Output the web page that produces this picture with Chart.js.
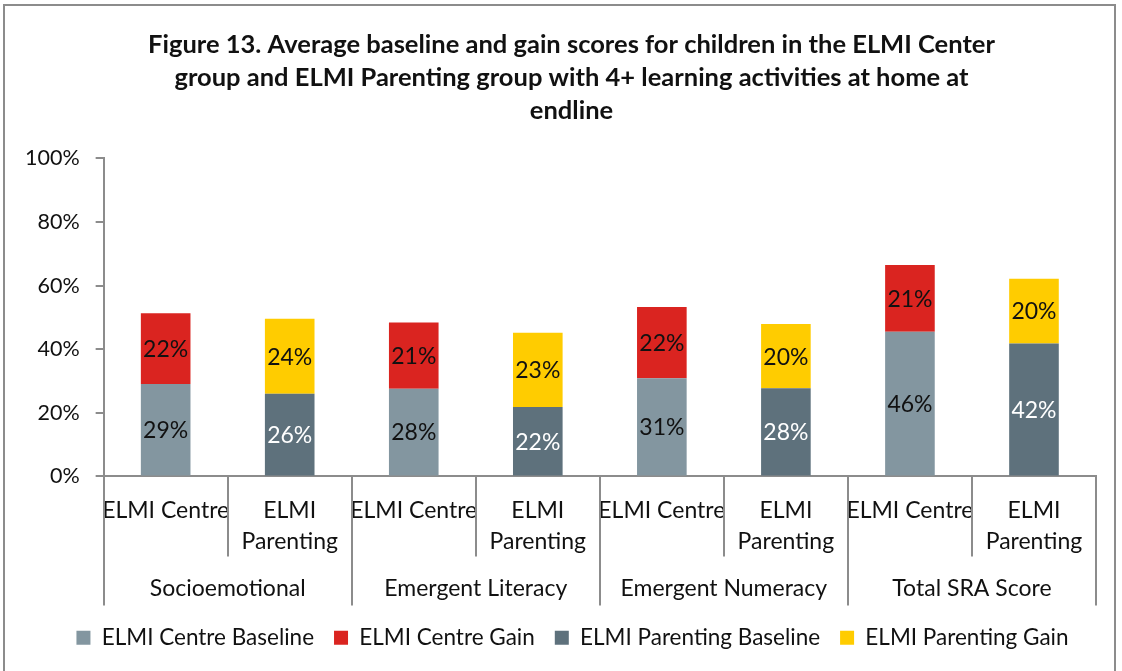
<!DOCTYPE html>
<html>
<head>
<meta charset="utf-8">
<script src="https://cdn.jsdelivr.net/npm/chart.js@4/dist/chart.umd.min.js"></script>
<style>
	html, body { margin: 0; padding: 0; background: #fff; }
	#frame {
		position: absolute; left: 3px; top: 4px; width: 1113px; height: 700px;
		border: 2px solid #8c8c8c; border-bottom: none; box-sizing: border-box;
	}
	#wrap { position: absolute; left: 0; top: 0; width: 1122px; height: 671px; }
</style>
</head>
<body>
<div id="frame"></div>
<div id="wrap"><canvas id="chart" width="1122" height="671"></canvas></div>
<script>
"use strict";

// data
const group_labels			= ["Socioemotional", "Emergent Literacy", "Emergent Numeracy", "Total SRA Score"]
const sub_labels			= [["ELMI Centre"], ["ELMI", "Parenting"]]
const centre_baseline		= [29.1, 27.6, 30.9, 45.5]
const centre_gain			= [22.2, 20.8, 22.4, 21.0]
const parenting_baseline	= [26.0, 21.8, 27.7, 41.8]
const parenting_gain		= [23.6, 23.4, 20.2, 20.4]

const FONT = "Lato, 'Noto Sans', sans-serif"
const AXIS_GREY = "#8c8c8c"

// expand to 8 bars: centre bars at even index, parenting bars at odd index
const labels = []
group_labels.forEach(() => { labels.push(sub_labels[0]); labels.push(sub_labels[1]) })

const spread = (values, offset) => {
	const out = []
	values.forEach((v) => {
		const pair = [null, null]
		pair[offset] = v
		out.push(...pair)
	})
	return out
}

const datasets = [
	{ label: "ELMI Centre Baseline",    data: spread(centre_baseline, 0),    backgroundColor: "#8396a0", text_color: "#111" },
	{ label: "ELMI Centre Gain",        data: spread(centre_gain, 0),        backgroundColor: "#da2420", text_color: "#111" },
	{ label: "ELMI Parenting Baseline", data: spread(parenting_baseline, 1), backgroundColor: "#5e717c", text_color: "#fff" },
	{ label: "ELMI Parenting Gain",     data: spread(parenting_gain, 1),     backgroundColor: "#ffcc00", text_color: "#111" }
]
datasets.forEach((d) => {
	d.stack = "s"
	d.barPercentage = 0.4
	d.categoryPercentage = 1
	d.borderWidth = 0
})

// value labels inside each segment
const value_labels = {
	id: "value_labels",
	afterDatasetsDraw(chart) {
		const ctx = chart.ctx
		ctx.save()
		ctx.font = "23px " + FONT
		ctx.textAlign = "center"
		ctx.textBaseline = "middle"
		chart.data.datasets.forEach((ds, i) => {
			const meta = chart.getDatasetMeta(i)
			meta.data.forEach((bar, j) => {
				const v = ds.data[j]
				if (v === null || v === undefined) return
				ctx.fillStyle = ds.text_color
				ctx.fillText(Math.round(v) + "%", bar.x, (bar.y + bar.base) / 2 + 1)
			})
		})
		ctx.restore()
	}
}

// two level category axis: separators + group labels
const group_axis = {
	id: "group_axis",
	afterDraw(chart) {
		const ctx = chart.ctx
		const x = chart.scales.x
		const top = chart.chartArea.bottom
		const sub_bottom = top + 80
		const grp_bottom = top + 129
		const n = chart.data.labels.length
		const step = (x.right - x.left) / n
		ctx.save()
		ctx.strokeStyle = AXIS_GREY
		ctx.lineWidth = 2
		for (let i = 0; i <= n; i++) {
			const px = Math.round(x.left + i * step)
			ctx.beginPath()
			ctx.moveTo(px, top)
			ctx.lineTo(px, i % 2 === 0 ? grp_bottom : sub_bottom)
			ctx.stroke()
		}
		ctx.fillStyle = "#111"
		ctx.font = "23px " + FONT
		ctx.textAlign = "center"
		ctx.textBaseline = "middle"
		group_labels.forEach((g, k) => {
			const cx = (x.getPixelForValue(2 * k) + x.getPixelForValue(2 * k + 1)) / 2
			ctx.fillText(g, cx, top + 112)
		})
		ctx.restore()
	}
}

// title and legend sit a little right of the canvas centre in the original
const box_shift = {
	id: "box_shift",
	afterLayout(chart) {
		if (chart.titleBlock) chart.titleBlock.left += 38
		if (chart.legend) chart.legend.left += 40
	}
}

new Chart(document.getElementById("chart"), {
	type: "bar",
	data: { labels: labels, datasets: datasets },
	plugins: [value_labels, group_axis, box_shift],
	options: {
		responsive: false,
		animation: false,
		layout: { padding: { left: 9, right: 26, top: 24, bottom: 12 } },
		scales: {
			x: {
				stacked: true,
				grid: { display: false },
				border: { display: true, color: AXIS_GREY, width: 2 },
				ticks: {
					font: { family: FONT, size: 23, lineHeight: 1.35 },
					color: "#111",
					padding: 11,
					maxRotation: 0,
					autoSkip: false
				},
				afterFit: (scale) => { scale.height += 38 }
			},
			y: {
				stacked: true,
				min: 0,
				max: 100,
				grid: { drawOnChartArea: false, color: AXIS_GREY, tickLength: 8, lineWidth: 2 },
				border: { display: true, color: AXIS_GREY, width: 2 },
				ticks: {
					stepSize: 20,
					font: { family: FONT, size: 21.5 },
					color: "#111",
					padding: 16,
					callback: (v) => v + "%"
				}
			}
		},
		plugins: {
			title: {
				display: true,
				text: [
					"Figure 13. Average baseline and gain scores for children in the ELMI Center",
					"group and ELMI Parenting group with 4+ learning activities at home at",
					"endline"
				],
				font: { family: FONT, size: 25.5, weight: "bold", lineHeight: 1.3 },
				color: "#111",
				padding: { top: 4, bottom: 31 }
			},
			legend: {
				position: "bottom",
				labels: {
					font: { family: FONT, size: 22.5 },
					color: "#111",
					boxWidth: 14,
					boxHeight: 14,
					padding: 20
				}
			},
			tooltip: { enabled: false }
		}
	}
})
</script>
</body>
</html>
